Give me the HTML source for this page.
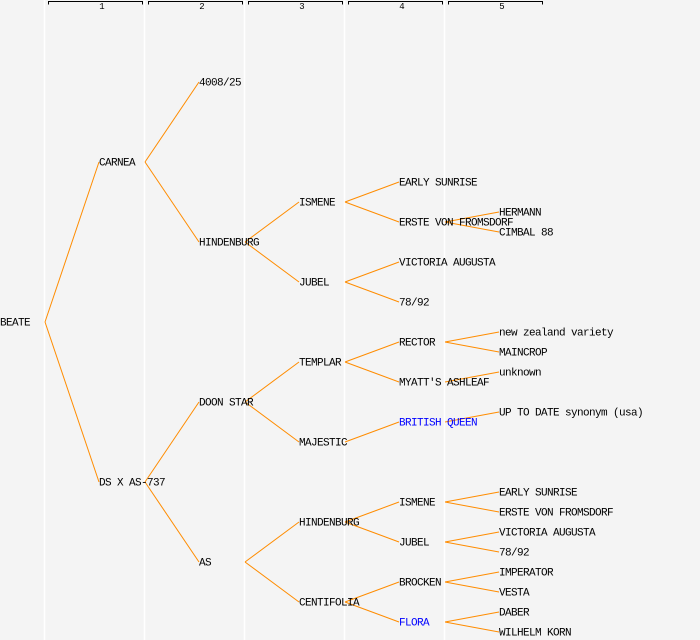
<!DOCTYPE html>
<html><head><meta charset="utf-8"><style>
html,body{margin:0;padding:0;background:#f4f4f4;}
svg{display:block}
text{font-family:"Liberation Mono","DejaVu Sans Mono",monospace;font-size:11px;letter-spacing:-0.6px;fill:#000;dominant-baseline:central}
.b{fill:#0000ff}
.h{font-size:9px;letter-spacing:0;text-anchor:middle}
line.c{stroke:#ff8c00;stroke-width:1}
</style></head><body>
<svg width="700" height="640" viewBox="0 0 700 640" xmlns="http://www.w3.org/2000/svg">
<rect width="700" height="640" fill="#f4f4f4"/>
<g stroke="#ffffff" stroke-width="1.5">
<line x1="44.5" y1="0" x2="44.5" y2="640"/>
<line x1="144.5" y1="0" x2="144.5" y2="640"/>
<line x1="244.5" y1="0" x2="244.5" y2="640"/>
<line x1="344.5" y1="0" x2="344.5" y2="640"/>
<line x1="444.5" y1="0" x2="444.5" y2="640"/>
</g>
<g fill="none" stroke="#000" stroke-width="1">
<path d="M48.5 4.5V1.5H142.5V4.5"/>
<path d="M148.5 4.5V1.5H242.5V4.5"/>
<path d="M248.5 4.5V1.5H342.5V4.5"/>
<path d="M348.5 4.5V1.5H442.5V4.5"/>
<path d="M448.5 4.5V1.5H542.5V4.5"/>
</g>
<text class="h" x="102" y="7">1</text>
<text class="h" x="202" y="7">2</text>
<text class="h" x="302" y="7">3</text>
<text class="h" x="402" y="7">4</text>
<text class="h" x="502" y="7">5</text>
<g>
<line class="c" x1="45" y1="322" x2="99" y2="162"/>
<line class="c" x1="45" y1="322" x2="99" y2="482"/>
<line class="c" x1="145" y1="162" x2="199" y2="82"/>
<line class="c" x1="145" y1="162" x2="199" y2="242"/>
<line class="c" x1="145" y1="482" x2="199" y2="402"/>
<line class="c" x1="145" y1="482" x2="199" y2="562"/>
<line class="c" x1="245" y1="242" x2="299" y2="202"/>
<line class="c" x1="245" y1="242" x2="299" y2="282"/>
<line class="c" x1="245" y1="402" x2="299" y2="362"/>
<line class="c" x1="245" y1="402" x2="299" y2="442"/>
<line class="c" x1="245" y1="562" x2="299" y2="522"/>
<line class="c" x1="245" y1="562" x2="299" y2="602"/>
<line class="c" x1="345" y1="202" x2="399" y2="182"/>
<line class="c" x1="345" y1="202" x2="399" y2="222"/>
<line class="c" x1="345" y1="282" x2="399" y2="262"/>
<line class="c" x1="345" y1="282" x2="399" y2="302"/>
<line class="c" x1="345" y1="362" x2="399" y2="342"/>
<line class="c" x1="345" y1="362" x2="399" y2="382"/>
<line class="c" x1="345" y1="442" x2="399" y2="422"/>
<line class="c" x1="345" y1="522" x2="399" y2="502"/>
<line class="c" x1="345" y1="522" x2="399" y2="542"/>
<line class="c" x1="345" y1="602" x2="399" y2="582"/>
<line class="c" x1="345" y1="602" x2="399" y2="622"/>
<line class="c" x1="445" y1="222" x2="499" y2="212"/>
<line class="c" x1="445" y1="222" x2="499" y2="232"/>
<line class="c" x1="445" y1="342" x2="499" y2="332"/>
<line class="c" x1="445" y1="342" x2="499" y2="352"/>
<line class="c" x1="445" y1="382" x2="499" y2="372"/>
<line class="c" x1="445" y1="422" x2="499" y2="412"/>
<line class="c" x1="445" y1="502" x2="499" y2="492"/>
<line class="c" x1="445" y1="502" x2="499" y2="512"/>
<line class="c" x1="445" y1="542" x2="499" y2="532"/>
<line class="c" x1="445" y1="542" x2="499" y2="552"/>
<line class="c" x1="445" y1="582" x2="499" y2="572"/>
<line class="c" x1="445" y1="582" x2="499" y2="592"/>
<line class="c" x1="445" y1="622" x2="499" y2="612"/>
<line class="c" x1="445" y1="622" x2="499" y2="632"/>
</g>
<g transform="translate(0,1.5)">
<text x="0" y="322">BEATE</text>
<text x="99" y="162">CARNEA</text>
<text x="99" y="482">DS X AS-737</text>
<text x="199" y="82">4008/25</text>
<text x="199" y="242">HINDENBURG</text>
<text x="199" y="402">DOON STAR</text>
<text x="199" y="562">AS</text>
<text x="299" y="202">ISMENE</text>
<text x="299" y="282">JUBEL</text>
<text x="299" y="362">TEMPLAR</text>
<text x="299" y="442">MAJESTIC</text>
<text x="299" y="522">HINDENBURG</text>
<text x="299" y="602">CENTIFOLIA</text>
<text x="399" y="182">EARLY SUNRISE</text>
<text x="399" y="222">ERSTE VON FROMSDORF</text>
<text x="399" y="262">VICTORIA AUGUSTA</text>
<text x="399" y="302">78/92</text>
<text x="399" y="342">RECTOR</text>
<text x="399" y="382">MYATT'S ASHLEAF</text>
<text class="b" x="399" y="422">BRITISH QUEEN</text>
<text x="399" y="502">ISMENE</text>
<text x="399" y="542">JUBEL</text>
<text x="399" y="582">BROCKEN</text>
<text class="b" x="399" y="622">FLORA</text>
<text x="499" y="212">HERMANN</text>
<text x="499" y="232">CIMBAL 88</text>
<text x="499" y="332">new zealand variety</text>
<text x="499" y="352">MAINCROP</text>
<text x="499" y="372">unknown</text>
<text x="499" y="412">UP TO DATE synonym (usa)</text>
<text x="499" y="492">EARLY SUNRISE</text>
<text x="499" y="512">ERSTE VON FROMSDORF</text>
<text x="499" y="532">VICTORIA AUGUSTA</text>
<text x="499" y="552">78/92</text>
<text x="499" y="572">IMPERATOR</text>
<text x="499" y="592">VESTA</text>
<text x="499" y="612">DABER</text>
<text x="499" y="632">WILHELM KORN</text>
</g>
</svg>
</body></html>
